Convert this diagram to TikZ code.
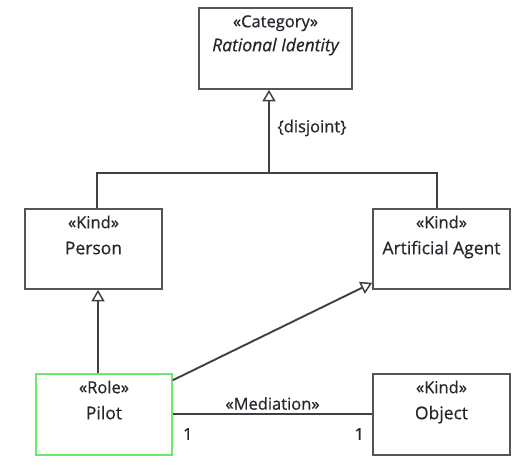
\documentclass[tikz,border=0pt]{standalone}
\usepackage{fontspec}
\setmainfont{Open Sans}[FakeBold=0.6]
\usetikzlibrary{arrows.meta,calc}
\definecolor{boxline}{HTML}{555555}
\definecolor{connline}{HTML}{404040}
\definecolor{ink}{HTML}{26262E}
\definecolor{rolegreen}{HTML}{6CE86C}
\tikzset{
  umlbox/.style={draw=boxline, line width=1.6pt, fill=white, rectangle, inner sep=0pt},
  rolebox/.style={umlbox, draw=rolegreen},
  stereo/.style={anchor=base, inner sep=0pt, text=ink, font=\fontsize{16.5}{18}\selectfont},
  cname/.style={anchor=base, inner sep=0pt, text=ink, font=\fontsize{17.5}{20}\selectfont},
  conn/.style={draw=connline, line width=1.9pt},
  gen/.style={conn, -{Triangle[open, width=13pt, length=11.5pt, fill=white, line width=1.5pt]}},
  mult/.style={inner sep=0pt, text=ink, font=\fontsize{16.5}{18}\selectfont}
}
\begin{document}
\begin{tikzpicture}[x=1pt, y=-1pt]
\useasboundingbox (0,0) rectangle (522,471);
\fill[white] (0,0) rectangle (522,471);

% classes
\node[umlbox, minimum width=153pt, minimum height=81pt] (cat) at (275.5,48.5) {};
\node[umlbox, minimum width=137pt, minimum height=80pt] (person) at (93.5,249) {};
\node[umlbox, minimum width=137pt, minimum height=80pt] (agent) at (441.5,249) {};
\node[rolebox, minimum width=136pt, minimum height=81pt] (pilot) at (104,414.5) {};
\node[umlbox, minimum width=137pt, minimum height=81pt] (object) at (441.5,414.5) {};

% class labels
\node[stereo] (catS) at ($(cat.north)+(0,20)$) {«Category»};
\node[cname, font=\fontsize{17.5}{20}\selectfont\itshape] (catN) at ($(cat.north)+(0,44)$) {Rational Identity};
\node[stereo] (personS) at ($(person.north)+(0,20)$) {«Kind»};
\node[cname] (personN) at ($(person.north)+(0,46)$) {Person};
\node[stereo] (agentS) at ($(agent.north)+(0,20)$) {«Kind»};
\node[cname] (agentN) at ($(agent.north)+(0,46)$) {Artificial Agent};
\node[stereo] (pilotS) at ($(pilot.north)+(0,20)$) {«Role»};
\node[cname] (pilotN) at ($(pilot.north)+(0,46)$) {Pilot};
\node[stereo] (objectS) at ($(object.north)+(0,20)$) {«Kind»};
\node[cname] (objectN) at ($(object.north)+(0,46)$) {Object};

% disjoint generalization set
\coordinate (gs) at (269,173);
\coordinate (pcol) at (97,0);
\coordinate (acol) at (437,0);
\draw[conn] (pcol |- person.north) |- (gs);
\draw[conn] (acol |- agent.north) |- (gs);
\draw[gen] (gs) -- (gs |- cat.south);
\node[mult] (disj) at (312,128) {\{disjoint\}};

% Pilot specializes Person and Artificial Agent
\coordinate (ppcol) at (98,0);
\draw[gen] (ppcol |- pilot.north) -- (ppcol |- person.south);
\draw[gen] ([yshift=-7pt]pilot.north east) -- ([yshift=7pt]agent.south west);

% mediation
\draw[conn, line width=2.1pt] ([yshift=0.5pt]pilot.east) -- ([yshift=0.5pt]object.west);
\node[mult] (med) at ($(pilot.east)!0.5!(object.west)+(0,-11)$) {«Mediation»};
\node[mult] (m1) at ($(pilot.east)+(15,19.5)$) {1};
\node[mult] (m2) at ($(object.west)+(-13,19.5)$) {1};
\end{tikzpicture}
\end{document}
